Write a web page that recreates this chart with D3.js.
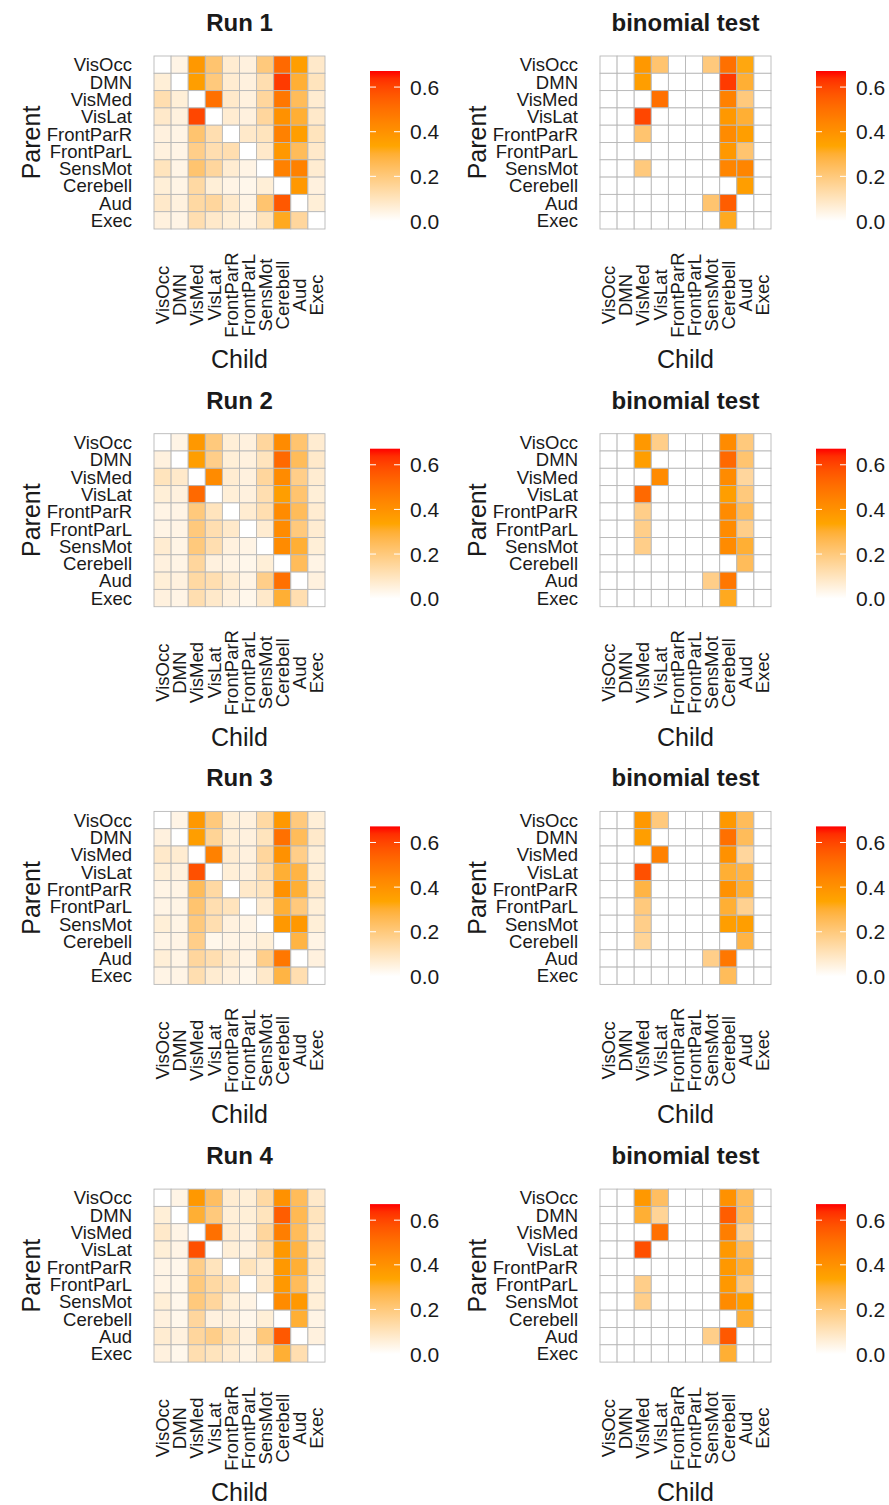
<!DOCTYPE html>
<html><head><meta charset="utf-8">
<script src="https://cdn.jsdelivr.net/npm/d3@7"></script>
<style>body{margin:0;background:#fff}text{font-family:"Liberation Sans",Arial,sans-serif;fill:#1a1a1a}</style>
</head><body>
<svg id="chart" width="889" height="1505"></svg>
<script>
const categories = ["VisOcc","DMN","VisMed","VisLat","FrontParR","FrontParL","SensMot","Cerebell","Aud","Exec"];
const legendTicks = [0, 0.2, 0.4, 0.6];
const colorStops = ["#ffffff", "#ffa500", "#ff0000"];
const maxValue = 0.672;

const run1 = [
 [0,0.04,0.38,0.22,0.07,0.05,0.2,0.52,0.36,0.08],
 [0.06,0,0.36,0.2,0.07,0.05,0.12,0.62,0.3,0.1],
 [0.12,0.06,0,0.5,0.08,0.05,0.15,0.48,0.25,0.07],
 [0.08,0.05,0.6,0,0.07,0.05,0.15,0.4,0.3,0.08],
 [0.05,0.04,0.22,0.12,0,0.08,0.1,0.45,0.36,0.1],
 [0.05,0.04,0.18,0.12,0.12,0,0.08,0.38,0.25,0.08],
 [0.1,0.04,0.22,0.15,0.07,0.04,0,0.45,0.45,0.07],
 [0.06,0.04,0.14,0.06,0.04,0.03,0.06,0,0.38,0.05],
 [0.08,0.05,0.14,0.15,0.08,0.04,0.22,0.56,0,0.06],
 [0.05,0.04,0.12,0.08,0.06,0.04,0.1,0.32,0.15,0]];
const binom1 = [
 [0,0,0.38,0.22,0,0,0.2,0.5,0.33,0],
 [0,0,0.36,0,0,0,0,0.62,0.3,0],
 [0,0,0,0.5,0,0,0,0.45,0.2,0],
 [0,0,0.6,0,0,0,0,0.38,0.3,0],
 [0,0,0.22,0,0,0,0,0.42,0.36,0],
 [0,0,0,0,0,0,0,0.38,0.22,0],
 [0,0,0.2,0,0,0,0,0.44,0.44,0],
 [0,0,0,0,0,0,0,0,0.36,0],
 [0,0,0,0,0,0,0.22,0.55,0,0],
 [0,0,0,0,0,0,0,0.32,0,0]];
const run2 = [
 [0,0.04,0.38,0.2,0.06,0.05,0.15,0.42,0.22,0.07],
 [0.05,0,0.36,0.18,0.06,0.05,0.1,0.52,0.25,0.08],
 [0.1,0.08,0,0.42,0.07,0.05,0.15,0.42,0.18,0.07],
 [0.06,0.05,0.52,0,0.06,0.05,0.12,0.36,0.22,0.06],
 [0.04,0.04,0.2,0.1,0,0.07,0.12,0.42,0.25,0.07],
 [0.04,0.04,0.2,0.12,0.08,0,0.07,0.42,0.2,0.07],
 [0.07,0.04,0.2,0.12,0.05,0.04,0,0.42,0.3,0.06],
 [0.05,0.04,0.15,0.05,0.04,0.03,0.06,0,0.25,0.04],
 [0.06,0.05,0.14,0.12,0.07,0.04,0.18,0.5,0,0.05],
 [0.05,0.04,0.12,0.08,0.05,0.03,0.08,0.3,0.12,0]];
const binom2 = [
 [0,0,0.38,0.18,0,0,0,0.42,0.2,0],
 [0,0,0.36,0,0,0,0,0.52,0.22,0],
 [0,0,0,0.42,0,0,0,0.42,0.15,0],
 [0,0,0.52,0,0,0,0,0.36,0.2,0],
 [0,0,0.18,0,0,0,0,0.42,0.25,0],
 [0,0,0.18,0,0,0,0,0.42,0.18,0],
 [0,0,0.18,0,0,0,0,0.42,0.3,0],
 [0,0,0,0,0,0,0,0,0.25,0],
 [0,0,0,0,0,0,0.18,0.48,0,0],
 [0,0,0,0,0,0,0,0.32,0,0]];
const run3 = [
 [0,0.04,0.38,0.2,0.06,0.05,0.14,0.38,0.2,0.06],
 [0.05,0,0.36,0.16,0.06,0.05,0.1,0.5,0.25,0.08],
 [0.08,0.07,0,0.45,0.07,0.05,0.15,0.4,0.18,0.06],
 [0.06,0.05,0.58,0,0.06,0.05,0.12,0.3,0.28,0.06],
 [0.04,0.04,0.25,0.14,0,0.08,0.1,0.4,0.3,0.08],
 [0.04,0.04,0.22,0.12,0.1,0,0.07,0.3,0.2,0.06],
 [0.06,0.04,0.2,0.12,0.05,0.04,0,0.38,0.38,0.06],
 [0.04,0.04,0.18,0.03,0.04,0.04,0.06,0,0.28,0.04],
 [0.06,0.04,0.15,0.12,0.07,0.04,0.18,0.48,0,0.05],
 [0.04,0.04,0.12,0.07,0.05,0.03,0.08,0.28,0.12,0]];
const binom3 = [
 [0,0,0.38,0.2,0,0,0,0.38,0.25,0],
 [0,0,0.36,0,0,0,0,0.5,0.25,0],
 [0,0,0,0.45,0,0,0,0.4,0.15,0],
 [0,0,0.58,0,0,0,0,0.3,0.28,0],
 [0,0,0.28,0,0,0,0,0.4,0.3,0],
 [0,0,0.2,0,0,0,0,0.3,0.17,0],
 [0,0,0.18,0,0,0,0,0.36,0.36,0],
 [0,0,0.16,0,0,0,0,0,0.28,0],
 [0,0,0,0,0,0,0.18,0.48,0,0],
 [0,0,0,0,0,0,0,0.25,0,0]];
const run4 = [
 [0,0.04,0.38,0.24,0.07,0.06,0.14,0.4,0.25,0.08],
 [0.06,0,0.3,0.2,0.06,0.06,0.1,0.55,0.26,0.1],
 [0.08,0.04,0,0.5,0.07,0.05,0.15,0.46,0.25,0.08],
 [0.06,0.04,0.58,0,0.06,0.05,0.12,0.38,0.28,0.08],
 [0.04,0.03,0.18,0.1,0,0.1,0.07,0.38,0.3,0.08],
 [0.04,0.03,0.2,0.14,0.1,0,0.08,0.38,0.25,0.06],
 [0.06,0.03,0.2,0.15,0.06,0.04,0,0.42,0.38,0.06],
 [0.05,0.03,0.15,0.05,0.05,0.03,0.06,0,0.3,0.04],
 [0.07,0.05,0.15,0.18,0.1,0.05,0.2,0.56,0,0.05],
 [0.05,0.03,0.12,0.1,0.07,0.04,0.08,0.3,0.12,0]];
const binom4 = [
 [0,0,0.38,0.24,0,0,0,0.4,0.25,0],
 [0,0,0.3,0.16,0,0,0,0.55,0.24,0],
 [0,0,0,0.5,0,0,0,0.46,0.16,0],
 [0,0,0.58,0,0,0,0,0.38,0.25,0],
 [0,0,0,0,0,0,0,0.38,0.3,0],
 [0,0,0.18,0,0,0,0,0.38,0.2,0],
 [0,0,0.18,0,0,0,0,0.42,0.36,0],
 [0,0,0,0,0,0,0,0,0.3,0],
 [0,0,0,0,0,0,0.18,0.56,0,0],
 [0,0,0,0,0,0,0,0.3,0,0]];

const panels = [
 {title:"Run 1", data:run1}, {title:"binomial test", data:binom1},
 {title:"Run 2", data:run2}, {title:"binomial test", data:binom2},
 {title:"Run 3", data:run3}, {title:"binomial test", data:binom3},
 {title:"Run 4", data:run4}, {title:"binomial test", data:binom4}];

const svg = d3.select("#chart");
const color = d3.scaleLinear().domain([0, maxValue/2, maxValue]).range(colorStops).interpolate(d3.interpolateLab).clamp(true);

// gradient
const defs = svg.append("defs");
const grad = defs.append("linearGradient").attr("id","lg").attr("x1",0).attr("x2",0).attr("y1",1).attr("y2",0);
d3.range(0, 1.0001, 0.05).forEach(t => grad.append("stop").attr("offset", t).attr("stop-color", color(t*maxValue)));

const gridW = 171, gridH = 173, rowStep = 377.7, colStep = 446;

panels.forEach((p, i) => {
  const col = i % 2, row = Math.floor(i / 2);
  const x0 = 154 + col*colStep, y0 = 56 + row*rowStep;
  const g = svg.append("g");
  const x = d3.scaleBand().domain(categories).range([x0, x0+gridW]);
  const y = d3.scaleBand().domain(categories).range([y0, y0+gridH]);

  g.append("text").attr("x", x0+gridW/2).attr("y", y0-25).attr("text-anchor","middle")
    .style("font-size","24px").style("font-weight","bold").text(p.title);

  const cells = [];
  p.data.forEach((r, ri) => r.forEach((v, ci) => cells.push({parent:categories[ri], child:categories[ci], v})));
  g.selectAll("rect.cell").data(cells).join("rect").attr("class","cell")
    .attr("x", d => x(d.child)).attr("y", d => y(d.parent))
    .attr("width", x.bandwidth()).attr("height", y.bandwidth())
    .attr("fill", d => color(d.v)).attr("stroke", "#b8b8b8").attr("stroke-width", 0.9);

  const ya = g.append("g").attr("transform", `translate(${x0},0)`)
    .call(d3.axisLeft(y).tickSize(0).tickPadding(22));
  ya.select(".domain").remove();
  ya.selectAll("text").style("font-size","18.5px").attr("fill","#1a1a1a").attr("font-family", null).attr("dy","0.36em");

  const xa = g.append("g").attr("transform", `translate(0,${y0+gridH})`)
    .call(d3.axisBottom(x).tickSize(0));
  xa.select(".domain").remove();
  xa.selectAll("text").style("font-size","18.5px").attr("fill","#1a1a1a").attr("font-family", null)
    .attr("y", 0).attr("x", 0).attr("dy","0.36em").attr("text-anchor","middle")
    .attr("transform", `translate(0,${239-gridH}) rotate(-90)`);

  g.append("text").attr("transform", `translate(${x0-123},${y0+gridH/2}) rotate(-90)`)
    .attr("text-anchor","middle").attr("dy","0.36em").style("font-size","25px").text("Parent");
  g.append("text").attr("x", x0+gridW/2).attr("y", y0+303).attr("text-anchor","middle")
    .attr("dy","0.36em").style("font-size","25px").text("Child");

  // legend
  const lx = x0 + 216;
  const ly = d3.scaleLinear().domain([0, maxValue]).range([y0+165, y0+15]);
  g.append("rect").attr("x", lx).attr("y", ly(maxValue)).attr("width", 30).attr("height", ly(0)-ly(maxValue)).attr("fill","url(#lg)");
  legendTicks.forEach(t => {
    g.append("line").attr("x1", lx).attr("x2", lx+6).attr("y1", ly(t)).attr("y2", ly(t)).attr("stroke","#fff").attr("stroke-width",1);
    g.append("line").attr("x1", lx+24).attr("x2", lx+30).attr("y1", ly(t)).attr("y2", ly(t)).attr("stroke","#fff").attr("stroke-width",1);
    g.append("text").attr("x", lx+40).attr("y", ly(t)).attr("dy","0.36em").style("font-size","21px").text(d3.format(".1f")(t));
  });
});
</script>
</body></html>
